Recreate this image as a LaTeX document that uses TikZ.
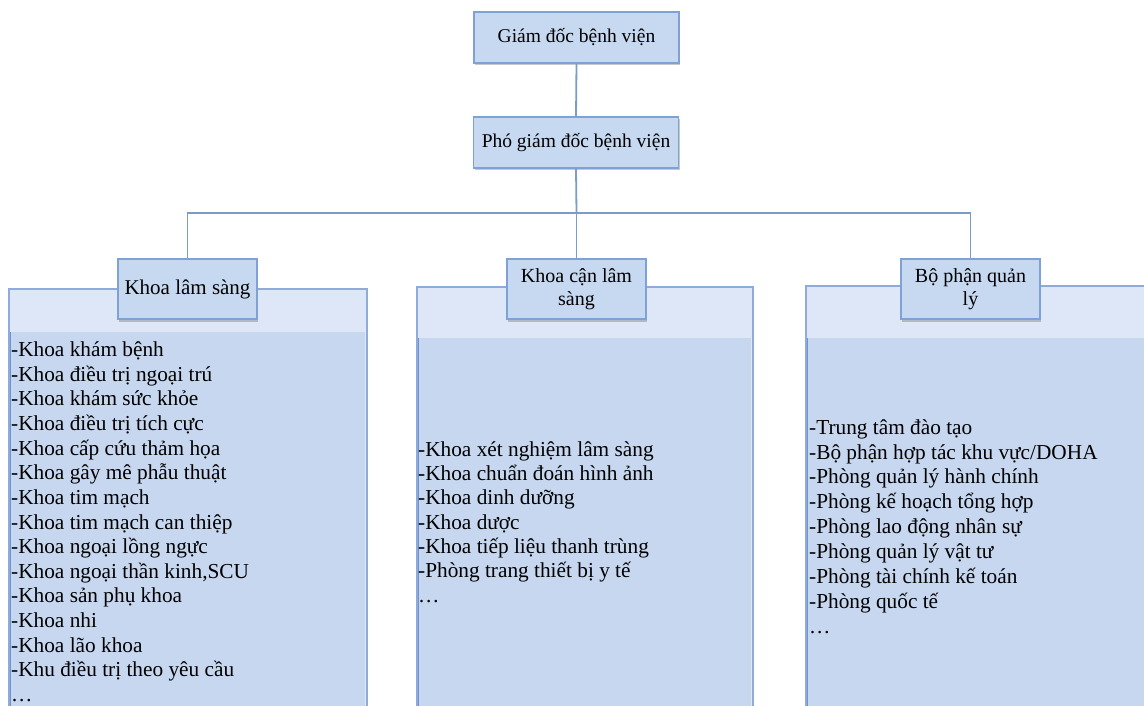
\documentclass[tikz,border=0pt]{standalone}
\usepackage{fontspec}
\setmainfont{Liberation Serif}
\usetikzlibrary{shadows}

\definecolor{boxfill}{HTML}{C6D9F1}
\definecolor{boxline}{HTML}{7EA2D6}
\definecolor{panelhead}{HTML}{DDE7F8}
\definecolor{panelbody}{HTML}{C6D7EF}
\definecolor{panelline}{HTML}{8EABDB}
\definecolor{paneledge}{HTML}{6F95D0}
\definecolor{linkcol}{HTML}{7A9BCC}

\tikzset{
  orgbox/.style={draw=boxline, line width=1.2pt, fill=boxfill,
    minimum width=205pt, minimum height=51pt, inner sep=0pt,
    font=\fontsize{19.5}{21}\selectfont,
    drop shadow={shadow xshift=1pt, shadow yshift=-2.5pt, opacity=.3, fill=black!70}},
  headbox/.style={orgbox, minimum width=139pt, minimum height=60pt, align=center,
    font=\fontsize{20}{23}\selectfont},
  panel/.style={draw=panelline, line width=1.4pt, fill=panelhead},
  body/.style={fill=panelbody},
  link/.style={draw=linkcol, line width=1.8pt},
  listtext/.style={anchor=north west, inner sep=0pt, align=left}
}

\begin{document}
\begin{tikzpicture}[x=1pt, y=-1pt]
\useasboundingbox (0,0) rectangle (1144,706);
\clip (0,0) rectangle (1144,706);

% ----- the three panels under the department headers -----
\draw[panel] (9,289) rectangle (367,730);
\fill[body] (11,332) rectangle (365,730);
\draw[paneledge, line width=1.2pt] (10.5,332) -- (10.5,730);

\draw[panel] (417,287) rectangle (753,730);
\fill[body] (419,338) rectangle (751,730);
\draw[paneledge, line width=1.2pt] (418.5,338) -- (418.5,730);

\draw[panel] (806,286) rectangle (1160,730);
\fill[body] (808,338) rectangle (1160,730);
\draw[paneledge, line width=1.2pt] (807.5,338) -- (807.5,730);

% ----- management boxes -----
\node[orgbox] (gd) at (576.5,37.5) {Giám đốc bệnh viện};
\node[orgbox] (pgd) at (576,142.5) {Phó giám đốc bệnh viện};

% ----- department headers -----
\node[headbox, font=\fontsize{21}{23}\selectfont] (h1) at (187.5,289) {Khoa lâm sàng};
\node[headbox] (h2) at (576.5,289) {Khoa cận lâm\\sàng};
\node[headbox] (h3) at (970.5,289) {Bộ phận quản\\lý};

% ----- connectors -----
\coordinate (bus) at (576.5,213);
\draw[link] (gd.south) -- (pgd.north);
\draw[link] (pgd.south) -- (bus);
\draw[link] (bus) -| (h1.north);
\draw[link] (bus) -- (h2.north);
\draw[link] (bus) -| (h3.north);

% ----- lists of units -----
\node[listtext, font=\fontsize{21.3}{24.65}\selectfont] (l1) at (11,339) {\strut-Khoa khám bệnh\\
-Khoa điều trị ngoại trú\\
-Khoa khám sức khỏe\\
-Khoa điều trị tích cực\\
-Khoa cấp cứu thảm họa\\
-Khoa gây mê phẫu thuật\\
-Khoa tim mạch\\
-Khoa tim mạch can thiệp\\
-Khoa ngoại lồng ngực\\
-Khoa ngoại thần kinh,SCU\\
-Khoa sản phụ khoa\\
-Khoa nhi\\
-Khoa lão khoa\\
-Khu điều trị theo yêu cầu\\
…};

\node[listtext, font=\fontsize{21.3}{24.3}\selectfont] (l2) at (418,439) {\strut-Khoa xét nghiệm lâm sàng\\
-Khoa chuẩn đoán hình ảnh\\
-Khoa dinh dưỡng\\
-Khoa dược\\
-Khoa tiếp liệu thanh trùng\\
-Phòng trang thiết bị y tế\\
…};

\node[listtext, font=\fontsize{21.3}{24.9}\selectfont] (l3) at (809,416.5) {\strut-Trung tâm đào tạo\\
-Bộ phận hợp tác khu vực/DOHA\\
-Phòng quản lý hành chính\\
-Phòng kế hoạch tổng hợp\\
-Phòng lao động nhân sự\\
-Phòng quản lý vật tư\\
-Phòng tài chính kế toán\\
-Phòng quốc tế\\
…};
\end{tikzpicture}
\end{document}
